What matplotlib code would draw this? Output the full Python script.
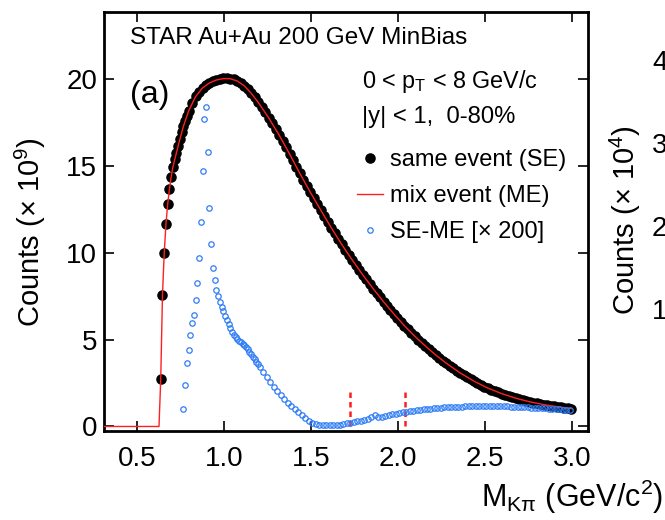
import matplotlib
matplotlib.use("Agg")
import matplotlib.pyplot as plt

plt.rcParams['font.family'] = ['Liberation Sans', 'DejaVu Sans']
plt.rcParams['mathtext.fontset'] = 'custom'
plt.rcParams['mathtext.rm'] = 'Liberation Sans'
plt.rcParams['mathtext.it'] = 'Liberation Sans:italic'
plt.rcParams['mathtext.bf'] = 'Liberation Sans:bold'

# ---- data (counts in units of 1e9) ----
se_mass = [0.635, 0.645, 0.655, 0.665, 0.675, 0.685, 0.695, 0.705, 0.715, 0.725,
           0.735, 0.745, 0.755, 0.765, 0.775, 0.785, 0.795, 0.815, 0.835, 0.855,
           0.875, 0.895, 0.915, 0.935, 0.955, 0.975, 0.995, 1.015, 1.035, 1.055,
           1.075, 1.095, 1.115, 1.135, 1.155, 1.175, 1.195, 1.215, 1.235, 1.255,
           1.275, 1.295, 1.315, 1.335, 1.355, 1.375, 1.395, 1.415, 1.435, 1.455,
           1.475, 1.495, 1.515, 1.535, 1.555, 1.575, 1.595, 1.615, 1.635, 1.655,
           1.675, 1.695, 1.715, 1.735, 1.755, 1.775, 1.795, 1.815, 1.835, 1.855,
           1.875, 1.895, 1.915, 1.935, 1.955, 1.975, 1.995, 2.015, 2.035, 2.055,
           2.075, 2.095, 2.115, 2.135, 2.155, 2.175, 2.195, 2.215, 2.235, 2.255,
           2.275, 2.295, 2.315, 2.335, 2.355, 2.375, 2.395, 2.415, 2.435, 2.455,
           2.475, 2.495, 2.515, 2.535, 2.555, 2.575, 2.595, 2.615, 2.635, 2.655,
           2.675, 2.695, 2.715, 2.735, 2.755, 2.775, 2.795, 2.815, 2.835, 2.855,
           2.875, 2.895, 2.915, 2.935, 2.955, 2.975, 2.995]
se_counts = [2.74, 7.60, 10.00, 11.68, 12.83, 13.70, 14.39, 14.97, 15.39, 15.78,
             16.18, 16.57, 16.95, 17.30, 17.62, 17.92, 18.19, 18.65, 19.02, 19.30,
             19.52, 19.68, 19.81, 19.91, 19.98, 20.03, 20.06, 20.07, 20.05, 20.00,
             19.92, 19.80, 19.64, 19.44, 19.21, 18.96, 18.69, 18.41, 18.11, 17.80,
             17.48, 17.15, 16.81, 16.46, 16.10, 15.72, 15.34, 14.96, 14.58, 14.21,
             13.85, 13.50, 13.15, 12.81, 12.47, 12.13, 11.79, 11.46, 11.13, 10.81,
             10.49, 10.19, 9.89, 9.60, 9.31, 9.03, 8.75, 8.48, 8.21, 7.95,
             7.69, 7.44, 7.19, 6.95, 6.71, 6.48, 6.25, 6.03, 5.81, 5.60,
             5.40, 5.20, 5.01, 4.82, 4.64, 4.46, 4.29, 4.12, 3.96, 3.80,
             3.65, 3.50, 3.36, 3.22, 3.09, 2.96, 2.84, 2.72, 2.61, 2.50,
             2.40, 2.30, 2.21, 2.12, 2.04, 1.96, 1.89, 1.82, 1.75, 1.69,
             1.63, 1.57, 1.52, 1.47, 1.42, 1.38, 1.34, 1.30, 1.26, 1.23,
             1.20, 1.17, 1.14, 1.11, 1.08, 1.05, 1.03]

me_mass = [0.30, 0.625, 0.635, 0.645, 0.655, 0.665, 0.675, 0.685, 0.695, 0.705,
           0.725, 0.745, 0.765, 0.795, 0.835, 0.875, 0.915, 0.955, 0.995, 1.035,
           1.075, 1.115, 1.155, 1.195, 1.255, 1.315, 1.375, 1.435, 1.495, 1.555,
           1.615, 1.675, 1.735, 1.795, 1.855, 1.915, 1.975, 2.035, 2.095, 2.155,
           2.215, 2.275, 2.355, 2.435, 2.515, 2.595, 2.675, 2.755, 2.835, 2.915,
           2.995]
me_counts = [0.0, 0.0, 2.74, 7.60, 9.99, 11.67, 12.82, 13.69, 14.38, 14.96,
             15.77, 16.56, 17.29, 18.18, 19.01, 19.51, 19.80, 19.97, 20.05, 20.04,
             19.91, 19.63, 19.20, 18.68, 17.79, 16.80, 15.71, 14.57, 13.49, 12.46,
             11.45, 10.49, 9.60, 8.75, 7.95, 7.19, 6.48, 5.81, 5.20, 4.64,
             4.12, 3.65, 3.09, 2.61, 2.21, 1.89, 1.63, 1.42, 1.26, 1.14,
             1.03]

diff_mass = [0.765, 0.775, 0.785, 0.795, 0.805, 0.815, 0.825, 0.835, 0.845, 0.855,
             0.865, 0.875, 0.885, 0.895, 0.905, 0.915, 0.925, 0.935, 0.945, 0.955,
             0.965, 0.975, 0.985, 0.995, 1.005, 1.015, 1.025, 1.035, 1.045, 1.055,
             1.065, 1.075, 1.085, 1.095, 1.105, 1.115, 1.125, 1.135, 1.145, 1.155,
             1.165, 1.175, 1.185, 1.195, 1.205, 1.225, 1.245, 1.265, 1.285, 1.305,
             1.325, 1.345, 1.365, 1.385, 1.405, 1.425, 1.445, 1.465, 1.485, 1.505,
             1.525, 1.545, 1.565, 1.585, 1.605, 1.625, 1.645, 1.665, 1.685, 1.705,
             1.725, 1.745, 1.765, 1.785, 1.805, 1.825, 1.845, 1.865, 1.885, 1.905,
             1.925, 1.945, 1.965, 1.985, 2.005, 2.025, 2.045, 2.065, 2.085, 2.105,
             2.125, 2.145, 2.165, 2.185, 2.205, 2.225, 2.245, 2.265, 2.285, 2.305,
             2.325, 2.345, 2.365, 2.385, 2.405, 2.425, 2.445, 2.465, 2.485, 2.505,
             2.525, 2.545, 2.565, 2.585, 2.605, 2.625, 2.645, 2.665, 2.685, 2.705,
             2.725, 2.745, 2.765, 2.785, 2.805, 2.825, 2.845, 2.865, 2.885, 2.905,
             2.925, 2.945, 2.965, 2.985]
diff_counts = [0.99, 2.41, 3.66, 4.43, 5.26, 5.94, 6.42, 7.27, 8.29, 9.69,
               11.8, 14.7, 17.7, 18.4, 15.8, 12.6, 10.5, 9.14, 8.44, 7.87,
               7.52, 7.19, 6.90, 6.65, 6.38, 6.13, 5.88, 5.66, 5.47, 5.30,
               5.16, 5.04, 4.94, 4.85, 4.76, 4.67, 4.56, 4.44, 4.31, 4.17,
               4.03, 3.88, 3.73, 3.58, 3.43, 3.12, 2.83, 2.55, 2.28, 2.03,
               1.80, 1.58, 1.38, 1.19, 1.00, 0.82, 0.64, 0.47, 0.32, 0.20,
               0.13, 0.10, 0.08, 0.07, 0.07, 0.08, 0.09, 0.11, 0.14, 0.18,
               0.22, 0.26, 0.30, 0.34, 0.38, 0.43, 0.55, 0.68, 0.56, 0.57,
               0.61, 0.65, 0.69, 0.73, 0.77, 0.81, 0.85, 0.88, 0.91, 0.94,
               0.97, 0.99, 1.01, 1.03, 1.05, 1.07, 1.08, 1.10, 1.11, 1.12,
               1.13, 1.14, 1.15, 1.16, 1.16, 1.17, 1.17, 1.18, 1.18, 1.18,
               1.18, 1.18, 1.18, 1.17, 1.17, 1.16, 1.15, 1.14, 1.13, 1.12,
               1.11, 1.10, 1.09, 1.08, 1.06, 1.05, 1.04, 1.02, 1.01, 0.99,
               0.98, 0.96, 0.94, 0.93]

cut_mass = [1.72, 2.04]
cut_height = 2.15

x_ticks = [0.5, 1.0, 1.5, 2.0, 2.5, 3.0]
x_ticklabels = ['0.5', '1.0', '1.5', '2.0', '2.5', '3.0']
y_ticks = [0, 5, 10, 15, 20]
right_panel_ticks = ['4', '3', '2', '1']

# ---- figure ----
fig = plt.figure(figsize=(6.65, 5.2), dpi=100)
ax = fig.add_axes([0.1564, 0.1712, 0.7278, 0.8048])

ax.plot(se_mass, se_counts, 'o', color='black', ms=7.6, mec='black', mew=0,
        zorder=2, label='same event (SE)')
ax.plot(me_mass, me_counts, '-', color='#ff1f1f', lw=1.0, zorder=3,
        label='mix event (ME)')
ax.plot(diff_mass, diff_counts, 'o', mfc='none', mec='#2f7df5', ms=3.9,
        mew=0.9, zorder=4, label='SE-ME [\u00d7 200]')
for cm in cut_mass:
    ax.plot([cm, cm], [0, cut_height], color='#ff1f1f', lw=1.8,
            dashes=(2.2, 1.6), zorder=3)

ax.set_xlim(0.309, 3.09)
ax.set_ylim(-0.26, 23.86)
ax.set_xticks(x_ticks)
ax.set_xticklabels(x_ticklabels)
ax.set_yticks(y_ticks)
ax.tick_params(axis='both', which='major', direction='in', length=7,
               width=1.2, top=True, right=True, labelsize=20)
ax.tick_params(axis='x', pad=11)
ax.tick_params(axis='y', pad=5)
for sp in ax.spines.values():
    sp.set_linewidth(2.0)

ax.set_ylabel('Counts (\u00d7 10$^{\\mathregular{9}}$)', fontsize=21,
              va='center')
ax.yaxis.set_label_coords(-0.152, 0.475)
ax.set_xlabel('M$_{\\mathregular{K\u03c0}}$ (GeV/c$^{\\mathregular{2}}$)',
              fontsize=22, ha='right', va='center')
ax.xaxis.set_label_coords(1.155, -0.158)

ax.text(0.054, 0.939, 'STAR Au+Au 200 GeV MinBias', transform=ax.transAxes,
        fontsize=17.5, ha='left', va='center')
ax.text(0.054, 0.803, '(a)', transform=ax.transAxes, fontsize=23,
        ha='left', va='center')
ax.text(0.533, 0.836, '0 < p$_{\\mathregular{T}}$ < 8 GeV/c',
        transform=ax.transAxes, fontsize=16.8, ha='left', va='center')
ax.text(0.533, 0.750, '|y| < 1,  0-80%', transform=ax.transAxes,
        fontsize=17.2, ha='left', va='center')

leg = ax.legend(loc='upper left', bbox_to_anchor=(0.523, 0.674),
                frameon=False, fontsize=17, handlelength=1.1,
                handletextpad=0.3, labelspacing=0.6, borderpad=0,
                borderaxespad=0, markerscale=1.0)

# partial neighbouring panel at the right edge
fig.text(625 / 665, 1 - 220 / 520, 'Counts (\u00d7 10$^{\\mathregular{4}}$)',
         rotation=90, fontsize=21, ha='center', va='center')
for lab, ypix in zip(right_panel_ticks, [63, 146, 229, 312]):
    fig.text(652 / 665, 1 - ypix / 520, lab, fontsize=20, ha='left',
             va='center')

fig.savefig('out.png', dpi=100)
